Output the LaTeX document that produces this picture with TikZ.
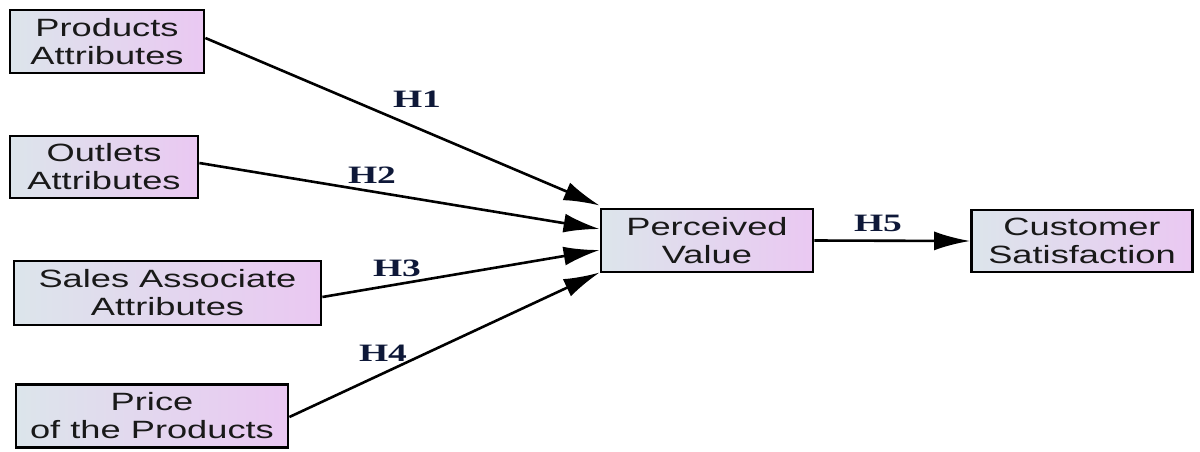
\documentclass[tikz,border=0pt]{standalone}
\usepackage{fontspec}
\setmainfont{Liberation Sans}[FakeStretch=1.45]
\newfontfamily\labfont{Liberation Serif}[FakeStretch=1.5]
\usetikzlibrary{arrows.meta}
\definecolor{boxleft}{RGB}{220,229,235}
\definecolor{boxright}{RGB}{234,200,242}
\definecolor{labcol}{RGB}{14,24,56}
\definecolor{txtcol}{RGB}{25,25,25}
\tikzset{
  varbox/.style={draw=black, line width=2.8pt, left color=boxleft, right color=boxright,
    inner sep=0pt, align=center, text=txtcol,
    font=\fontsize{25}{28}\selectfont},
  link/.style={line width=2.6pt, -{Latex[length=36pt,width=19pt]}},
  hlab/.style={font=\labfont\bfseries\fontsize{25}{28}\selectfont, text=labcol, inner sep=0pt}
}
\begin{document}
\begin{tikzpicture}[x=1pt,y=-1pt]
\useasboundingbox (0,0) rectangle (1200,451);
\node[varbox, minimum width=194pt, minimum height=63pt] (pa) at (107,41.5) {Products\\Attributes};
\node[varbox, minimum width=188pt, minimum height=62pt] (oa) at (104,167) {Outlets\\Attributes};
\node[varbox, minimum width=307pt, minimum height=64pt] (sa) at (167.5,293) {Sales Associate\\Attributes};
\node[varbox, minimum width=272pt, minimum height=63pt] (pp) at (152,416) {Price\\of the Products};
\node[varbox, minimum width=212pt, minimum height=63pt] (pv) at (707,240.5) {Perceived\\Value};
\node[varbox, minimum width=221pt, minimum height=62pt] (cs) at (1082,241) {Customer\\Satisfaction};

\draw[link] ([yshift=3.5pt]pa.east) -- ([yshift=35pt]pv.west);
\draw[link] ([yshift=4pt]oa.east) -- ([yshift=11.5pt]pv.west);
\draw[link] ([yshift=-4pt]sa.east) -- ([yshift=-9.5pt]pv.west);
\draw[link] ([yshift=-1pt]pp.east) -- ([yshift=-32pt]pv.west);
\draw[link] (pv.east) -- (cs.west);

\node[hlab] (h1) at (417,99) {H1};
\node[hlab] (h2) at (372,175) {H2};
\node[hlab] (h3) at (397,268) {H3};
\node[hlab] (h4) at (383,353) {H4};
\node[hlab] (h5) at (878,223) {H5};
\end{tikzpicture}
\end{document}
